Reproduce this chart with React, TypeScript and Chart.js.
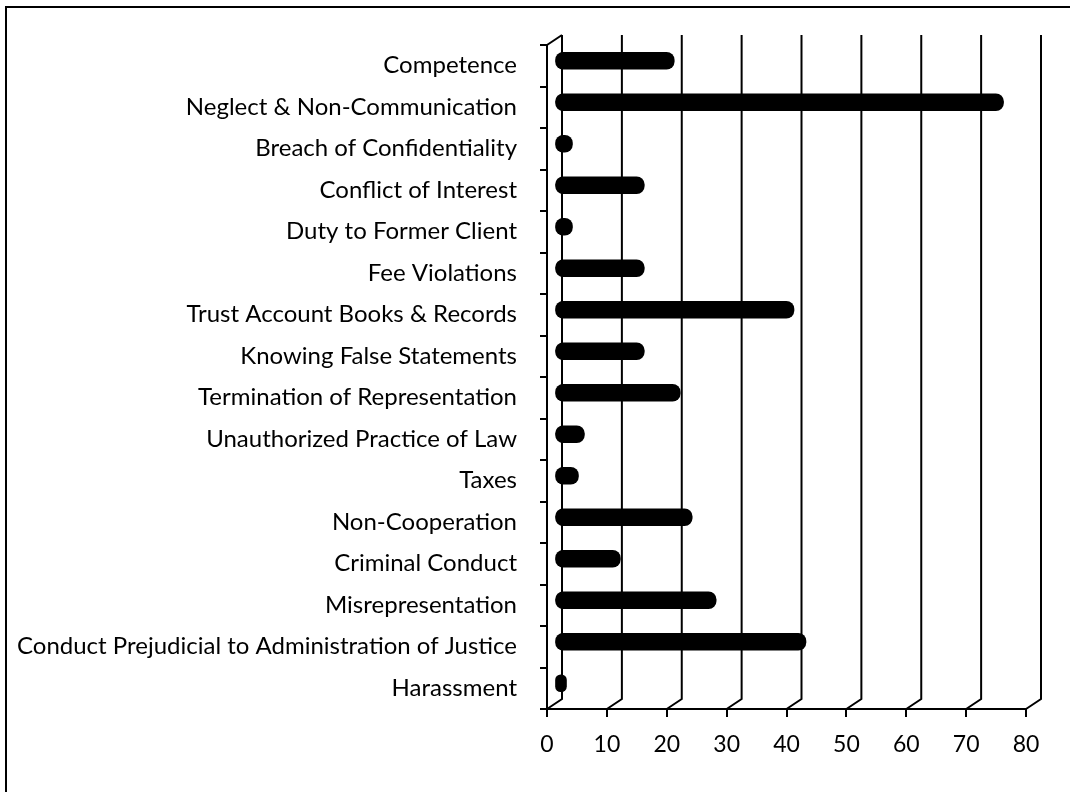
import React, { useEffect, useRef } from "react";
import { Chart, registerables } from "chart.js";

Chart.register(...registerables);

const categories = [
  "Competence",
  "Neglect & Non-Communication",
  "Breach of Confidentiality",
  "Conflict of Interest",
  "Duty to Former Client",
  "Fee Violations",
  "Trust Account Books & Records",
  "Knowing False Statements",
  "Termination of Representation",
  "Unauthorized Practice of Law",
  "Taxes",
  "Non-Cooperation",
  "Criminal Conduct",
  "Misrepresentation",
  "Conduct Prejudicial to Administration of Justice",
  "Harassment",
];

const complaintCounts = [20, 75, 3, 15, 3, 15, 40, 15, 21, 5, 4, 23, 11, 27, 42, 2];

const axisMin = 0;
const axisMax = 80;
const axisStep = 10;

const DEPTH_X = 15;
const DEPTH_Y = 10;

const depthPlugin = {
  id: "depth3d",
  beforeDatasetsDraw(chart: any) {
    const { ctx, chartArea, scales } = chart;
    const xs = scales.x;
    ctx.save();
    ctx.strokeStyle = "#000";
    ctx.lineWidth = 2;
    ctx.lineCap = "butt";
    for (let v = axisMin; v <= axisMax; v += axisStep) {
      const px = xs.getPixelForValue(v);
      ctx.beginPath();
      ctx.moveTo(px, chartArea.bottom);
      ctx.lineTo(px + DEPTH_X, chartArea.bottom - DEPTH_Y);
      ctx.lineTo(px + DEPTH_X, chartArea.top - DEPTH_Y);
      ctx.stroke();
    }
    ctx.beginPath();
    ctx.moveTo(chartArea.left, chartArea.top);
    ctx.lineTo(chartArea.left + DEPTH_X, chartArea.top - DEPTH_Y);
    ctx.stroke();
    ctx.restore();
    ctx.save();
    ctx.translate(DEPTH_X / 2, -DEPTH_Y / 2);
  },
  afterDatasetsDraw(chart: any) {
    chart.ctx.restore();
  },
  afterDraw(chart: any) {
    const { ctx } = chart;
    ctx.save();
    ctx.strokeStyle = "#000";
    ctx.lineWidth = 2;
    ctx.beginPath();
    ctx.moveTo(1070, 7);
    ctx.lineTo(6, 7);
    ctx.lineTo(6, 792);
    ctx.stroke();
    ctx.restore();
  },
};

export default function App() {
  const ref = useRef<HTMLCanvasElement>(null);

  useEffect(() => {
    if (!ref.current) return;
    const chart = new Chart(ref.current, {
      type: "bar",
      data: {
        labels: categories,
        datasets: [
          {
            data: complaintCounts,
            backgroundColor: "#000",
            borderWidth: 0,
            barThickness: 17,
            borderRadius: 8,
            borderSkipped: false,
          },
        ],
      },
      options: {
        indexAxis: "y",
        animation: false,
        responsive: false,
        layout: { padding: { top: 45, right: 44, left: 0, bottom: 0 } },
        plugins: {
          legend: { display: false },
          tooltip: { enabled: false },
        },
        scales: {
          x: {
            min: axisMin,
            max: axisMax,
            ticks: {
              stepSize: axisStep,
              color: "#000",
              padding: 14,
              font: { family: "Lato", size: 23 },
            },
            grid: {
              drawOnChartArea: false,
              drawTicks: true,
              tickLength: 8,
              color: "#000",
              lineWidth: 2,
            },
            border: { display: true, color: "#000", width: 2 },
            afterFit: (s: any) => {
              s.height = 83;
            },
          },
          y: {
            ticks: {
              color: "#000",
              padding: 23,
              autoSkip: false,
              font: { family: "Lato", size: 24 },
            },
            grid: {
              offset: true,
              drawOnChartArea: false,
              drawTicks: true,
              tickLength: 7,
              color: "#000",
              lineWidth: 2,
            },
            border: { display: true, color: "#000", width: 2 },
            afterFit: (s: any) => {
              s.width = 547;
            },
          },
        },
      },
      plugins: [depthPlugin],
    });
    return () => chart.destroy();
  }, []);

  return (
    <div style={{ position: "fixed", left: 0, top: 0, width: 1070, height: 792, background: "#fff" }}>
      <canvas ref={ref} width={1070} height={792} style={{ display: "block" }} />
    </div>
  );
}
